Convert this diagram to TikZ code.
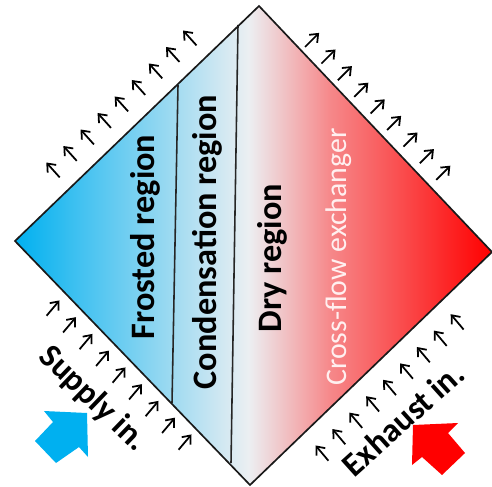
\documentclass[tikz,border=0pt]{standalone}
\usepackage{fontspec}
\setmainfont{Carlito}
\usetikzlibrary{arrows.meta}
\definecolor{supplyblue}{RGB}{0,176,240}
\definecolor{midgrey}{RGB}{236,239,242}
\definecolor{warmpink}{RGB}{246,136,138}
\definecolor{exhaustred}{RGB}{255,0,0}
\definecolor{palepink}{RGB}{255,240,240}
\pgfdeclarehorizontalshading{coldwarm}{100bp}{color(0bp)=(supplyblue); color(25bp)=(supplyblue);
    color(49.5bp)=(midgrey); color(58bp)=(warmpink); color(75bp)=(exhaustred); color(100bp)=(exhaustred)}

\begin{document}
\begin{tikzpicture}[x=0.02cm, y=-0.02cm,
    region/.style={rotate=90, font=\bfseries\fontsize{19.5}{20}\selectfont},
    inlet/.style={font=\bfseries\fontsize{19}{20}\selectfont},
    flow/.style={-{Straight Barb[length=4pt,width=6.5pt]}, line width=1pt},
    divider/.style={draw=black!85, line width=0.9pt}]
    \useasboundingbox (0,0) rectangle (492,486);

    % Corners of the exchanger
    \coordinate (L) at (15,241);
    \coordinate (T) at (259,6);
    \coordinate (R) at (492,252);
    \coordinate (B) at (250,485);

    % Shade the diamond from cold to warm
    \shade[shading=coldwarm] (L) -- (T) -- (R) -- (B) -- cycle;

    % Draw the region borders
    \draw[divider] (178,85) -- (172,403);
    \draw[divider] (238,25) -- (231,463);

    % Outline of the diamond
    \draw[black!90, line width=0.95pt] (L) -- (T) -- (R) -- (B) -- cycle;

    % Add the region labels
    \node[region] (frost) at (145,237) {Frosted region};
    \node[region] (cond) at (207,242) {Condensation region};
    \node[region] (dry) at (272,258) {Dry region};
    \node[rotate=90, text=palepink, font=\fontsize{17}{18}\selectfont] (hx) at (339,257) {Cross-flow exchanger};

    % Add the inlet labels
    \node[inlet, rotate=-44] (supply) at (93,399) {Supply in.};
    \node[inlet, rotate=42] (exhaust) at (403,419) {Exhaust in.};

    % Small flow arrows along the four sides
    \foreach \i in {0,...,8} {
        \draw[flow] (59.7+17.1*\i, 177.4-16.5*\i) -- ++(-13.4,-14.9);
        \draw[flow] (305+16.4*\i, 47+16.6*\i) -- ++(14.1,-14.1);
        \draw[flow] (46.6+16.5*\i, 315.7+16.75*\i) -- ++(12.9,-15.3);
        \draw[flow] (328.4+16.9*\i, 460.7-16.4*\i) -- ++(-12.9,-15.3);
    }

    % Draw the big inlet arrows
    \fill[supplyblue] (87,413) -- (44,411) -- (53,422) -- (35,441) -- (56,463) -- (79,447) -- (88,457) -- cycle;
    \fill[exhaustred] (413,425) -- (458,423) -- (448,433) -- (465,453) -- (442,475) -- (422,457) -- (412,465) -- cycle;
\end{tikzpicture}
\end{document}
